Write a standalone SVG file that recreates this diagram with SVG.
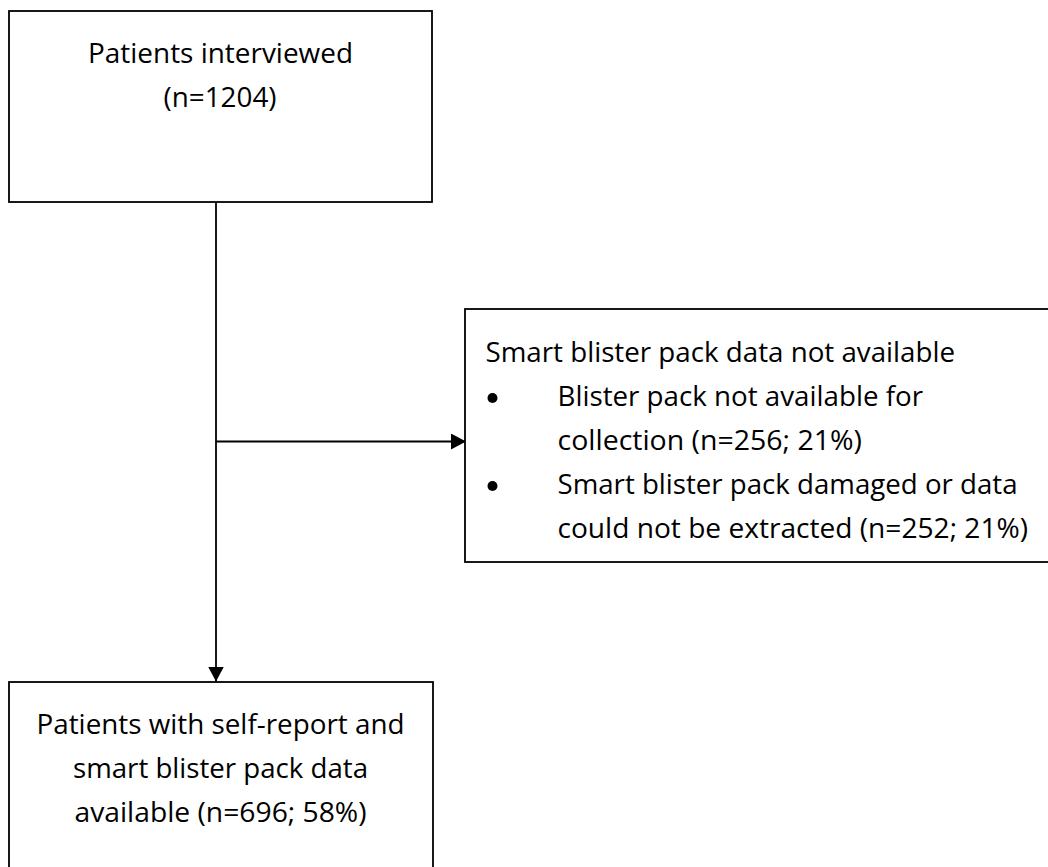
<svg xmlns="http://www.w3.org/2000/svg" width="1048" height="867" viewBox="0 0 1048 867">
  <style>
    .box { fill: #ffffff; stroke: #000000; stroke-width: 1.8; }
    .edge { fill: none; stroke: #000000; stroke-width: 1.8; }
    .t { font-family: "Open Sans", "Liberation Sans", sans-serif; font-size: 28px; fill: #000000; }
    .c { text-anchor: middle; }
  </style>
  <defs>
    <marker id="arrow" markerWidth="15" markerHeight="16" refX="15" refY="8" orient="auto" markerUnits="userSpaceOnUse">
      <path d="M0,0 L15,8 L0,16 Z" fill="#000000"/>
    </marker>
  </defs>
  <rect width="1048" height="867" fill="#ffffff"/>

  <g id="connectors">
    <line class="edge" x1="216" y1="202" x2="216" y2="681.5" marker-end="url(#arrow)"/>
    <line class="edge" x1="216" y1="441.5" x2="466" y2="441.5" marker-end="url(#arrow)"/>
  </g>

  <g id="node-interviewed">
    <rect class="box" x="9" y="11" width="423" height="191"/>
    <text class="t c" x="220.5" y="63" textLength="265" lengthAdjust="spacingAndGlyphs">Patients interviewed</text>
    <text class="t c" x="220" y="107" textLength="113" lengthAdjust="spacingAndGlyphs">(n=1204)</text>
  </g>

  <g id="node-excluded">
    <rect class="box" x="465" y="309" width="600" height="253"/>
    <text class="t" x="485.5" y="362" textLength="469.5" lengthAdjust="spacingAndGlyphs">Smart blister pack data not available</text>
    <circle cx="492.5" cy="398" r="5" fill="#000000"/>
    <text class="t" x="557.5" y="406" textLength="365.5" lengthAdjust="spacingAndGlyphs">Blister pack not available for</text>
    <text class="t" x="557.5" y="450" textLength="304.5" lengthAdjust="spacingAndGlyphs">collection (n=256; 21%)</text>
    <circle cx="492.5" cy="486" r="5" fill="#000000"/>
    <text class="t" x="557.5" y="494" textLength="460" lengthAdjust="spacingAndGlyphs">Smart blister pack damaged or data</text>
    <text class="t" x="557.5" y="538" textLength="470.5" lengthAdjust="spacingAndGlyphs">could not be extracted (n=252; 21%)</text>
  </g>

  <g id="node-included">
    <rect class="box" x="9" y="682" width="424" height="230"/>
    <text class="t c" x="220.5" y="734" textLength="368" lengthAdjust="spacingAndGlyphs">Patients with self-report and</text>
    <text class="t c" x="220.5" y="778" textLength="295" lengthAdjust="spacingAndGlyphs">smart blister pack data</text>
    <text class="t c" x="220.5" y="822" textLength="292" lengthAdjust="spacingAndGlyphs">available (n=696; 58%)</text>
  </g>
</svg>
